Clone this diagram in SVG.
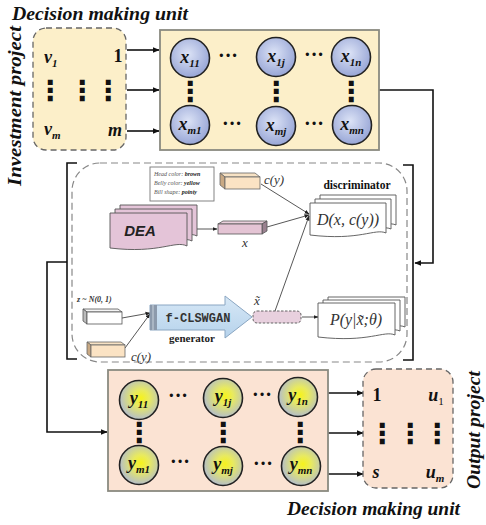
<svg xmlns="http://www.w3.org/2000/svg" width="486" height="525" viewBox="0 0 486 525">
<defs>
<radialGradient id="gx" cx="45%" cy="40%" r="60%"><stop offset="0" stop-color="#dce3f6"/><stop offset="1" stop-color="#98a6d6"/></radialGradient>
<radialGradient id="gy" cx="55%" cy="45%" r="60%"><stop offset="0" stop-color="#f6f21c"/><stop offset="0.35" stop-color="#e8ea60"/><stop offset="1" stop-color="#aeb8d6"/></radialGradient>
<linearGradient id="garr" x1="0" y1="0" x2="0" y2="1"><stop offset="0" stop-color="#d7e8f6"/><stop offset="1" stop-color="#b6d3ec"/></linearGradient>
<marker id="ah" viewBox="0 0 10 10" refX="9" refY="5" markerWidth="7" markerHeight="7" orient="auto" markerUnits="userSpaceOnUse"><path d="M0,1 L10,5 L0,9 Z" fill="#111"/></marker>
<marker id="as" viewBox="0 0 10 10" refX="9" refY="5" markerWidth="5" markerHeight="5" orient="auto" markerUnits="userSpaceOnUse"><path d="M0,1 L10,5 L0,9 Z" fill="#222"/></marker>
</defs>
<style>
.ttl{font-family:"Liberation Serif",serif;font-weight:bold;font-style:italic;font-size:18px;fill:#111}
.var{font-family:"Liberation Serif",serif;font-weight:bold;font-style:italic;font-size:18px;fill:#111}
.sub{font-size:11px}
.num{font-family:"Liberation Serif",serif;font-weight:bold;font-size:18px;fill:#111}
.dots{font-family:"Liberation Serif",serif;font-weight:bold;font-size:20px;fill:#111}
.vd{font-family:"DejaVu Sans",sans-serif;font-weight:bold;font-size:28px;fill:#111}
.cx{fill:url(#gx);stroke:#222;stroke-width:1.6}
.cy{fill:url(#gy);stroke:#222;stroke-width:1.6}
.conn{fill:none;stroke:#111;stroke-width:1.6}
.thin{fill:none;stroke:#444;stroke-width:0.9}
.math{font-family:"Liberation Serif",serif;font-style:italic;fill:#333}
.page{fill:#e4c4d8;stroke:#555;stroke-width:0.9}
.wpage{fill:#fff;stroke:#555;stroke-width:0.9}
</style>

<!-- titles -->
<text class="ttl" x="12" y="20" textLength="176" lengthAdjust="spacingAndGlyphs">Decision making unit</text>
<text class="ttl" x="287" y="515" textLength="173" lengthAdjust="spacingAndGlyphs">Decision making unit</text>
<text class="ttl" transform="translate(21,106) rotate(-90)" text-anchor="middle" textLength="160" lengthAdjust="spacingAndGlyphs">Investment project</text>
<text class="ttl" transform="translate(480,430) rotate(-90)" text-anchor="middle" textLength="118" lengthAdjust="spacingAndGlyphs">Output project</text>

<!-- connectors -->
<g id="connectors">
<line class="conn" x1="127" y1="50" x2="159" y2="50" marker-end="url(#ah)"/>
<line class="conn" x1="127" y1="90" x2="159" y2="90" marker-end="url(#ah)"/>
<line class="conn" x1="127" y1="131" x2="159" y2="131" marker-end="url(#ah)"/>
<polyline class="conn" points="379,90 433,90 433,263 415,263" marker-end="url(#ah)"/>
<polyline class="conn" points="403,165 413,165 413,360 403,360"/>
<polyline class="conn" points="77,163 67,163 67,359 77,359"/>
<polyline class="conn" points="67,262 47,262 47,432 107,432" marker-end="url(#ah)"/>
<line class="conn" x1="328" y1="393" x2="363" y2="393" marker-end="url(#ah)"/>
<line class="conn" x1="328" y1="433" x2="363" y2="433" marker-end="url(#ah)"/>
<line class="conn" x1="328" y1="474" x2="363" y2="474" marker-end="url(#ah)"/>
<!-- inner GAN connectors -->
<line class="thin" x1="187" y1="229" x2="217" y2="229" marker-end="url(#as)"/>
<line class="thin" x1="261" y1="184" x2="309" y2="214" marker-end="url(#as)"/>
<line class="thin" x1="267" y1="227" x2="309" y2="215" marker-end="url(#as)"/>
<line class="thin" x1="275" y1="311" x2="309" y2="216" marker-end="url(#as)"/>
<line class="thin" x1="122" y1="318" x2="150" y2="313" marker-end="url(#as)"/>
<line class="thin" x1="125" y1="348" x2="150" y2="314" marker-end="url(#as)"/>
<line class="thin" x1="302" y1="317" x2="318" y2="317" marker-end="url(#as)"/>
</g>

<!-- Investment project box -->
<g id="input-box">
<rect x="33" y="28" width="93" height="122" rx="13" fill="#fcefc9" stroke="#666" stroke-width="1.3" stroke-dasharray="6,4"/>
<text class="var" x="44" y="63">v<tspan class="sub" dy="4">1</tspan></text>
<text class="num" x="118" y="62" text-anchor="middle">1</text>
<text class="vd" x="50" y="100" text-anchor="middle">⋮</text>
<text class="vd" x="82" y="100" text-anchor="middle">⋮</text>
<text class="vd" x="108" y="100" text-anchor="middle">⋮</text>
<text class="var" x="44" y="135">v<tspan class="sub" dy="4">m</tspan></text>
<text class="var" x="115" y="136" text-anchor="middle">m</text>
</g>

<!-- X matrix -->
<g id="x-matrix">
<rect x="160" y="30" width="219" height="120" fill="#fcefc9" stroke="#8a8a80" stroke-width="1.8"/>
<circle class="cx" cx="190" cy="58" r="19.5"/>
<circle class="cx" cx="276" cy="57" r="19.5"/>
<circle class="cx" cx="351" cy="57" r="19.5"/>
<circle class="cx" cx="190" cy="125" r="19.5"/>
<circle class="cx" cx="276" cy="126" r="19.5"/>
<circle class="cx" cx="352" cy="125" r="19.5"/>
<text class="var" x="190" y="63" text-anchor="middle">x<tspan class="sub" dy="4">11</tspan></text>
<text class="var" x="276" y="62" text-anchor="middle">x<tspan class="sub" dy="4">1j</tspan></text>
<text class="var" x="351" y="62" text-anchor="middle">x<tspan class="sub" dy="4">1n</tspan></text>
<text class="var" x="190" y="130" text-anchor="middle">x<tspan class="sub" dy="4">m1</tspan></text>
<text class="var" x="276" y="131" text-anchor="middle">x<tspan class="sub" dy="4">mj</tspan></text>
<text class="var" x="352" y="130" text-anchor="middle">x<tspan class="sub" dy="4">mn</tspan></text>
<text class="dots" x="228" y="62" text-anchor="middle">···</text>
<text class="dots" x="314" y="61" text-anchor="middle">···</text>
<text class="dots" x="232" y="130" text-anchor="middle">···</text>
<text class="dots" x="314" y="130" text-anchor="middle">···</text>
<text class="vd" x="190" y="101" text-anchor="middle">⋮</text>
<text class="vd" x="276" y="101" text-anchor="middle">⋮</text>
<text class="vd" x="351" y="101" text-anchor="middle">⋮</text>
</g>

<!-- GAN panel -->
<g id="gan-panel">
<rect x="72" y="163" width="335" height="199" rx="28" fill="none" stroke="#888" stroke-width="1.2" stroke-dasharray="7,4"/>
<rect x="150" y="167" width="64" height="34" fill="#fff" stroke="#777" stroke-width="0.9"/>
<text font-family="Liberation Serif,serif" font-style="italic" font-size="6" fill="#555" x="154" y="176">Head color: <tspan font-weight="bold" fill="#222">brown</tspan></text>
<text font-family="Liberation Serif,serif" font-style="italic" font-size="6" fill="#555" x="154" y="185">Belly color: <tspan font-weight="bold" fill="#222">yellow</tspan></text>
<text font-family="Liberation Serif,serif" font-style="italic" font-size="6" fill="#555" x="154" y="194">Bill shape: <tspan font-weight="bold" fill="#222">pointy</tspan></text>
<polygon points="225,177 260,177 255,173 220,173" fill="#f7e2c4" stroke="#666" stroke-width="0.8"/>
<polygon points="225,177 220,173 220,185 225,189" fill="#c9a984" stroke="#666" stroke-width="0.8"/>
<rect x="225" y="177" width="35" height="12" fill="#fbe3c4" stroke="#666" stroke-width="0.8"/>
<text class="math" x="264" y="184" font-size="13">c(y)</text>
</g>

<g id="dea">
<path class="page" d="M120,205 H197 V236 C185,230 170,244 120,238 Z"/>
<path class="page" d="M115,209 H192 V241 C180,235 165,249 115,243 Z"/>
<path class="page" d="M110,213 H187 V246 C175,240 160,254 110,248 Z"/>
<text x="140" y="236" font-family="Liberation Sans,sans-serif" font-style="italic" font-weight="bold" font-size="15" fill="#222" text-anchor="middle">DEA</text>
</g>

<g id="x-feature">
<polygon points="218,224 223,221 267,221 262,224" fill="#ead0dc" stroke="#555" stroke-width="0.8"/>
<polygon points="262,224 267,221 267,231 262,234" fill="#9a8290" stroke="#555" stroke-width="0.8"/>
<rect x="218" y="224" width="44" height="10" fill="#e4c4d4" stroke="#555" stroke-width="0.8"/>
<text class="math" x="245" y="247" font-size="13" text-anchor="middle">x</text>
</g>

<g id="discriminator">
<text x="357" y="189" font-family="Liberation Serif,serif" font-weight="bold" font-size="11.5" fill="#111" text-anchor="middle">discriminator</text>
<path class="wpage" d="M320,195 H396 V225 C385,220 370,233 320,227 Z"/>
<path class="wpage" d="M315,199 H391 V229 C380,224 365,237 315,231 Z"/>
<path class="wpage" d="M310,203 H386 V233 C375,228 360,241 310,235 Z"/>
<text class="math" x="348" y="225" font-size="16" text-anchor="middle">D(x, c(y))</text>
</g>

<g id="generator">
<text x="77" y="302" font-family="Liberation Serif,serif" font-style="italic" font-weight="bold" font-size="8" fill="#333">z ~ N(0, 1)</text>
<polygon points="87,312 122,312 118,309 83,309" fill="#f4f4f4" stroke="#555" stroke-width="0.8"/>
<polygon points="87,312 83,309 83,321 87,324" fill="#bbb" stroke="#555" stroke-width="0.8"/>
<rect x="87" y="312" width="35" height="12" fill="#fff" stroke="#555" stroke-width="0.8"/>
<polygon points="91,345 125,345 121,342 87,342" fill="#f7e2c4" stroke="#666" stroke-width="0.8"/>
<polygon points="91,345 87,342 87,354 91,357" fill="#c9a984" stroke="#666" stroke-width="0.8"/>
<rect x="91" y="345" width="34" height="12" fill="#fbe3c4" stroke="#666" stroke-width="0.8"/>
<text class="math" x="131" y="361" font-size="13">c(y)</text>
<polygon points="150,305 225,305 225,296 252,317 225,338 225,330 150,330" fill="url(#garr)" stroke="#8aa6c2" stroke-width="1"/>
<rect x="150" y="305" width="7" height="25" fill="#8c9aac"/>
<line x1="153" y1="305" x2="153" y2="330" stroke="#c8d2dc" stroke-width="1"/>
<text x="198" y="322" font-family="Liberation Mono,monospace" font-weight="bold" font-size="12" fill="#333" text-anchor="middle">f-CLSWGAN</text>
<text x="192" y="342" font-family="Liberation Serif,serif" font-weight="bold" font-size="11" fill="#222" text-anchor="middle">generator</text>
</g>

<g id="x-tilde">
<rect x="253" y="311" width="48" height="12" rx="4" fill="#e8d0de" stroke="#555" stroke-width="0.9" stroke-dasharray="2.5,1.5"/>
<text class="math" x="257" y="305" font-size="13" text-anchor="middle">x̃</text>
</g>

<g id="classifier">
<path class="wpage" d="M328,297 H405 V327 C394,322 379,335 328,329 Z"/>
<path class="wpage" d="M323,300 H400 V331 C389,326 374,339 323,333 Z"/>
<path class="wpage" d="M318,303 H395 V335 C384,330 369,343 318,337 Z"/>
<text class="math" x="356" y="325" font-size="16" text-anchor="middle">P(y|x̃;θ)</text>
</g>

<!-- Y matrix -->
<g id="y-matrix">
<rect x="108" y="370" width="220" height="121" fill="#fbe3d3" stroke="#8a8a80" stroke-width="1.8"/>
<circle class="cy" cx="139" cy="400" r="19.5"/>
<circle class="cy" cx="223" cy="398" r="19.5"/>
<circle class="cy" cx="298" cy="397" r="19.5"/>
<circle class="cy" cx="139" cy="465" r="19.5"/>
<circle class="cy" cx="223" cy="466" r="19.5"/>
<circle class="cy" cx="301" cy="466" r="19.5"/>
<text class="var" x="139" y="404" text-anchor="middle">y<tspan class="sub" dy="4">11</tspan></text>
<text class="var" x="223" y="402" text-anchor="middle">y<tspan class="sub" dy="4">1j</tspan></text>
<text class="var" x="298" y="401" text-anchor="middle">y<tspan class="sub" dy="4">1n</tspan></text>
<text class="var" x="139" y="469" text-anchor="middle">y<tspan class="sub" dy="4">m1</tspan></text>
<text class="var" x="223" y="470" text-anchor="middle">y<tspan class="sub" dy="4">mj</tspan></text>
<text class="var" x="301" y="470" text-anchor="middle">y<tspan class="sub" dy="4">mn</tspan></text>
<text class="dots" x="178" y="402" text-anchor="middle">···</text>
<text class="dots" x="262" y="401" text-anchor="middle">···</text>
<text class="dots" x="180" y="468" text-anchor="middle">···</text>
<text class="dots" x="263" y="470" text-anchor="middle">···</text>
<text class="vd" x="139" y="442" text-anchor="middle">⋮</text>
<text class="vd" x="223" y="442" text-anchor="middle">⋮</text>
<text class="vd" x="300" y="442" text-anchor="middle">⋮</text>
</g>

<!-- Output project box -->
<g id="output-box">
<rect x="363" y="369" width="90" height="119" rx="13" fill="#fbe3d3" stroke="#666" stroke-width="1.3" stroke-dasharray="6,4"/>
<text class="num" x="377" y="401" text-anchor="middle">1</text>
<text class="var" x="436" y="401" text-anchor="middle">u<tspan class="sub" dy="4" font-style="normal" font-weight="normal">1</tspan></text>
<text class="vd" x="382" y="443" text-anchor="middle">⋮</text>
<text class="vd" x="410" y="443" text-anchor="middle">⋮</text>
<text class="vd" x="437" y="443" text-anchor="middle">⋮</text>
<text class="var" x="376" y="478" text-anchor="middle">s</text>
<text class="var" x="435" y="478" text-anchor="middle">u<tspan class="sub" dy="4">m</tspan></text>
</g>
</svg>
